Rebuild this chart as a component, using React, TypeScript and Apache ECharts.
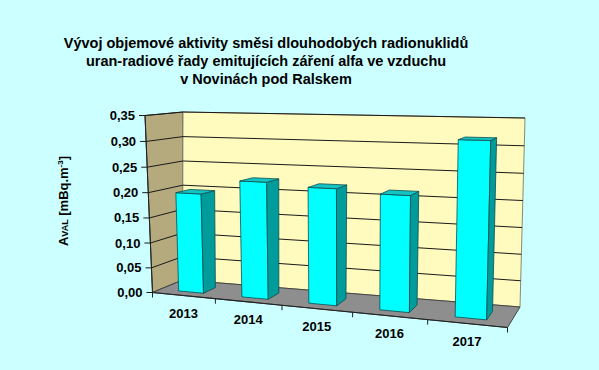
import React, { useEffect, useRef } from "react";
import * as echarts from "echarts";

// ---------- data ----------
const categories = ["2013", "2014", "2015", "2016", "2017"];
const values = [0.198, 0.227, 0.221, 0.215, 0.317];
const yTicks = [0, 0.05, 0.1, 0.15, 0.2, 0.25, 0.3, 0.35];
const yTickLabels = ["0,00", "0,05", "0,10", "0,15", "0,20", "0,25", "0,30", "0,35"];
const titleLines = [
  "Vývoj objemové aktivity směsi dlouhodobých radionuklidů",
  "uran-radiové řady emitujících záření alfa ve vzduchu",
  "v Novinách pod Ralskem",
];
const yMax = 0.35;

// ---------- 3D box layout (screen corners, key = x y z ; z=1 is back) ----------
const BOX: Record<string, number[]> = {
  "000": [152.5, 292.5],
  "100": [507.5, 327.5],
  "001": [182.5, 280],
  "101": [520, 307],
  "010": [145, 115.5],
  "110": [513, 123],
  "011": [183, 112],
  "111": [525, 118],
};
const WA = -0.1386;
const WB = -0.03;
const WC = 0.0572;

function proj(x: number, y: number, z: number): number[] {
  let nx = 0, ny = 0, d = 0;
  for (let xi = 0; xi < 2; xi++)
    for (let yi = 0; yi < 2; yi++)
      for (let zi = 0; zi < 2; zi++) {
        const t = (xi ? x : 1 - x) * (yi ? y : 1 - y) * (zi ? z : 1 - z);
        const w = (1 + WA * xi + WB * yi + WC * zi) * t;
        const p = BOX[`${xi}${yi}${zi}`];
        nx += p[0] * w;
        ny += p[1] * w;
        d += w;
      }
  return [nx / d, ny / d];
}

const FONT = '"Liberation Sans", Arial, sans-serif';
const BAR_Z0 = 0.25;
const BAR_Z1 = 0.67;

export default function App() {
  const ref = useRef<HTMLDivElement>(null);

  useEffect(() => {
    if (!ref.current) return;
    const chart = echarts.init(ref.current, undefined, { renderer: "svg" });

    const norm = (cs: any, c: number[]) => [
      (c[0] - cs.x) / cs.width,
      (cs.y + cs.height - c[1]) / cs.height,
    ];

    const envRender = (params: any, api: any) => {
      const cs = params.coordSys;
      const children: any[] = [];
      const poly = (pts: number[][], fill: string, stroke: string, lw = 1) => ({
        type: "polygon",
        shape: { points: pts },
        style: { fill, stroke, lineWidth: lw },
      });
      children.push(
        poly([proj(0, 0, 0), proj(0, 0, 1), proj(0, 1, 1), proj(0, 1, 0)], "#B4AA7D", "#333", 1)
      );
      children.push(
        poly([proj(0, 0, 1), proj(1, 0, 1), proj(1, 1, 1), proj(0, 1, 1)], "#FFFABE", "#8a8a70", 1)
      );
      children.push(
        poly([proj(0, 0, 0), proj(1, 0, 0), proj(1, 0, 1), proj(0, 0, 1)], "#8E8E8E", "#444", 1)
      );
      yTicks.forEach((t, k) => {
        const Y = norm(cs, api.coord([0, t]))[1];
        if (t > 0) {
          children.push({
            type: "polyline",
            shape: { points: [proj(0, Y, 0), proj(0, Y, 1), proj(1, Y, 1)] },
            style: { stroke: "#1a1a1a", lineWidth: 1, fill: null },
          });
        }
        const p = proj(0, Y, 0);
        children.push({
          type: "line",
          shape: { x1: p[0] - 6, y1: p[1], x2: p[0], y2: p[1] },
          style: { stroke: "#1a1a1a", lineWidth: 1 },
        });
        children.push({
          type: "text",
          x: p[0] - 10,
          y: p[1],
          style: {
            text: yTickLabels[k],
            fill: "#000",
            font: `bold 13px ${FONT}`,
            align: "right",
            verticalAlign: "middle",
          },
        });
      });
      const a = proj(0, 0, 0), b = proj(0, 1, 0);
      children.push({
        type: "line",
        shape: { x1: a[0], y1: a[1], x2: b[0], y2: b[1] },
        style: { stroke: "#222", lineWidth: 1 },
      });
      const r = proj(1, 0, 0);
      children.push({
        type: "line",
        shape: { x1: a[0], y1: a[1], x2: r[0], y2: r[1] },
        style: { stroke: "#222", lineWidth: 1.2 },
      });
      const bw = api.size([1, 0])[0] / cs.width;
      categories.forEach((cat, k) => {
        const X = norm(cs, api.coord([k, 0]))[0];
        const tp = proj(X - bw / 2, 0, 0);
        children.push({
          type: "line",
          shape: { x1: tp[0], y1: tp[1], x2: tp[0], y2: tp[1] + 5 },
          style: { stroke: "#222", lineWidth: 1 },
        });
        if (k === categories.length - 1) {
          const tq = proj(X + bw / 2, 0, 0);
          children.push({
            type: "line",
            shape: { x1: tq[0], y1: tq[1], x2: tq[0], y2: tq[1] + 5 },
            style: { stroke: "#222", lineWidth: 1 },
          });
        }
        const lp = proj(X, 0, 0);
        children.push({
          type: "text",
          x: lp[0],
          y: lp[1] + 17.5,
          style: {
            text: cat,
            fill: "#000",
            font: `bold 13px ${FONT}`,
            align: "center",
            verticalAlign: "middle",
          },
        });
      });
      return { type: "group", children };
    };

    const barRender = (params: any, api: any) => {
      const cs = params.coordSys;
      const i = api.value(0);
      const v = api.value(1);
      const [X, Y] = norm(cs, api.coord([i, v]));
      const half = (0.2 * api.size([1, 0])[0]) / cs.width;
      const x0 = X - half, x1 = X + half;
      const stroke = "#0B4F4F";
      const face = (pts: number[][], fill: string) => ({
        type: "polygon",
        shape: { points: pts },
        style: { fill, stroke, lineWidth: 0.8 },
      });
      return {
        type: "group",
        children: [
          face([proj(x0, 0, BAR_Z0), proj(x1, 0, BAR_Z0), proj(x1, Y, BAR_Z0), proj(x0, Y, BAR_Z0)], "#00FFFF"),
          face([proj(x1, 0, BAR_Z0), proj(x1, 0, BAR_Z1), proj(x1, Y, BAR_Z1), proj(x1, Y, BAR_Z0)], "#009C9C"),
          face([proj(x0, Y, BAR_Z0), proj(x1, Y, BAR_Z0), proj(x1, Y, BAR_Z1), proj(x0, Y, BAR_Z1)], "#14C4C4"),
        ],
      };
    };

    chart.setOption({
      animation: false,
      backgroundColor: "#CCFFFF",
      grid: { left: 0, right: 0, top: 0, bottom: 0 },
      xAxis: { type: "category", data: categories, show: false },
      yAxis: { type: "value", min: 0, max: yMax, interval: 0.05, show: false },
      graphic: [
        {
          type: "text",
          x: 266,
          y: 61,
          style: {
            text: titleLines.join("\n"),
            font: `bold 14.5px ${FONT}`,
            fill: "#000",
            align: "center",
            verticalAlign: "middle",
            lineHeight: 18,
          },
        },
        {
          type: "text",
          x: 63,
          y: 201,
          rotation: Math.PI / 2,
          style: {
            text: "{a|A}{s|VAL}{a| [mBq.m}{p|-3}{a|]}",
            align: "center",
            verticalAlign: "middle",
            rich: {
              a: { font: `bold 13px ${FONT}`, fill: "#000" },
              s: { font: `bold 9px ${FONT}`, fill: "#000", verticalAlign: "bottom" },
              p: { font: `bold 8px ${FONT}`, fill: "#000", verticalAlign: "top" },
            },
          },
        },
      ],
      series: [
        {
          type: "custom",
          z: 1,
          data: [[0, 0]],
          encode: { x: 0, y: 1 },
          renderItem: envRender,
          silent: true,
        },
        {
          type: "custom",
          z: 3,
          data: values.map((v, i) => [i, v]),
          encode: { x: 0, y: 1 },
          renderItem: barRender,
        },
      ],
    });

    return () => chart.dispose();
  }, []);

  return (
    <div
      ref={ref}
      style={{ position: "absolute", left: 0, top: 0, width: 599, height: 370 }}
    />
  );
}
